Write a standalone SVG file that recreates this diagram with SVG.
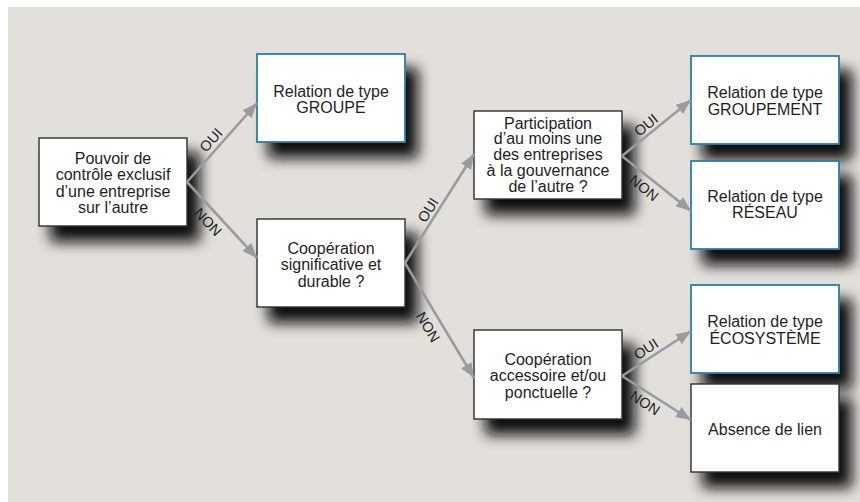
<svg xmlns="http://www.w3.org/2000/svg" width="860" height="502" viewBox="0 0 860 502">
  <defs>
    <style>
      .box { fill: #ffffff; stroke: #2e2e2e; stroke-width: 1.4; }
      .box.result { stroke: #2a7fa6; stroke-width: 1.8; }
      .label { font-family: "Liberation Sans", Arial, sans-serif; font-size: 16px; fill: #1e1e1e; text-anchor: middle; }
      .edge { stroke: #9a9b9e; stroke-width: 2.6; fill: none; marker-end: url(#arrow); }
      .tag { font-family: "Liberation Sans", Arial, sans-serif; font-size: 14.5px; fill: #1e1e1e; text-anchor: middle; }
    </style>
    <marker id="arrow" markerUnits="userSpaceOnUse" markerWidth="16" markerHeight="12" refX="15" refY="6" orient="auto">
      <path d="M0,0 L15,6 L0,12 z" fill="#9a9b9e"/>
    </marker>
    <!-- soft drop shadow cast down and to the right of each box -->
    <filter id="shadow" filterUnits="userSpaceOnUse" x="0" y="0" width="860" height="502">
      <feGaussianBlur in="SourceAlpha" stdDeviation="7"/>
      <feOffset dx="12" dy="15" result="blur"/>
      <feFlood flood-color="#0d0d0d" flood-opacity="1"/>
      <feComposite in2="blur" operator="in" result="shade"/>
      <feMerge>
        <feMergeNode in="shade"/>
        <feMergeNode in="SourceGraphic"/>
      </feMerge>
    </filter>
  </defs>

  <!-- panel -->
  <rect x="0" y="0" width="860" height="502" fill="#ffffff"/>
  <rect x="8" y="7" width="852" height="495" fill="#e3dfdb"/>

  <!-- nodes -->
  <g id="node-controle">
    <rect class="box" x="39" y="138" width="148" height="88" filter="url(#shadow)"/>
    <text class="label" x="113" y="163.5">Pouvoir de</text>
    <text class="label" x="113" y="180">contrôle exclusif</text>
    <text class="label" x="113" y="196.5">d’une entreprise</text>
    <text class="label" x="113" y="213">sur l’autre</text>
  </g>
  <g id="node-groupe">
    <rect class="box result" x="257" y="54" width="148" height="88" filter="url(#shadow)"/>
    <text class="label" x="331" y="96.5">Relation de type</text>
    <text class="label" x="331" y="113">GROUPE</text>
  </g>
  <g id="node-cooperation">
    <rect class="box" x="257" y="219" width="148" height="88" filter="url(#shadow)"/>
    <text class="label" x="331" y="253.5">Coopération</text>
    <text class="label" x="331" y="270">significative et</text>
    <text class="label" x="331" y="286.5">durable ?</text>
  </g>
  <g id="node-participation">
    <rect class="box" x="474" y="111" width="148" height="88" filter="url(#shadow)"/>
    <text class="label" x="548" y="128.5">Participation</text>
    <text class="label" x="548" y="144.3">d’au moins une</text>
    <text class="label" x="548" y="160">des entreprises</text>
    <text class="label" x="548" y="175.8">à la gouvernance</text>
    <text class="label" x="548" y="191.6">de l’autre ?</text>
  </g>
  <g id="node-groupement">
    <rect class="box result" x="691" y="56" width="148" height="88" filter="url(#shadow)"/>
    <text class="label" x="765" y="98">Relation de type</text>
    <text class="label" x="765" y="114.5">GROUPEMENT</text>
  </g>
  <g id="node-reseau">
    <rect class="box result" x="691" y="161" width="148" height="88" filter="url(#shadow)"/>
    <text class="label" x="765" y="201.5">Relation de type</text>
    <text class="label" x="765" y="218">RÉSEAU</text>
  </g>
  <g id="node-accessoire">
    <rect class="box" x="474" y="330" width="148" height="89" filter="url(#shadow)"/>
    <text class="label" x="548" y="364.5">Coopération</text>
    <text class="label" x="548" y="381">accessoire et/ou</text>
    <text class="label" x="548" y="397.5">ponctuelle ?</text>
  </g>
  <g id="node-ecosysteme">
    <rect class="box result" x="691" y="285" width="148" height="88" filter="url(#shadow)"/>
    <text class="label" x="765" y="327">Relation de type</text>
    <text class="label" x="765" y="343.5">ÉCOSYSTÈME</text>
  </g>
  <g id="node-absence">
    <rect class="box" x="691" y="384" width="148" height="88" filter="url(#shadow)"/>
    <text class="label" x="765" y="435">Absence de lien</text>
  </g>

  <!-- connectors -->
  <g id="connectors">
    <path class="edge" d="M187,182 L257,103"/>
    <path class="edge" d="M187,182 L257,258"/>
    <path class="edge" d="M405,263 L474,154"/>
    <path class="edge" d="M405,263 L474,378"/>
    <path class="edge" d="M622,156 L691,100"/>
    <path class="edge" d="M622,156 L691,211"/>
    <path class="edge" d="M622,376 L691,331"/>
    <path class="edge" d="M622,376 L691,420"/>

    <text class="tag" transform="translate(211,140) rotate(-48)" y="5">OUI</text>
    <text class="tag" transform="translate(208,222) rotate(47)" y="5">NON</text>
    <text class="tag" transform="translate(428,210) rotate(-58)" y="5">OUI</text>
    <text class="tag" transform="translate(428,327) rotate(59)" y="5">NON</text>
    <text class="tag" transform="translate(646,125) rotate(-39)" y="5">OUI</text>
    <text class="tag" transform="translate(644,188) rotate(39)" y="5">NON</text>
    <text class="tag" transform="translate(646,349) rotate(-33)" y="5">OUI</text>
    <text class="tag" transform="translate(645,403) rotate(33)" y="5">NON</text>
  </g>
</svg>
